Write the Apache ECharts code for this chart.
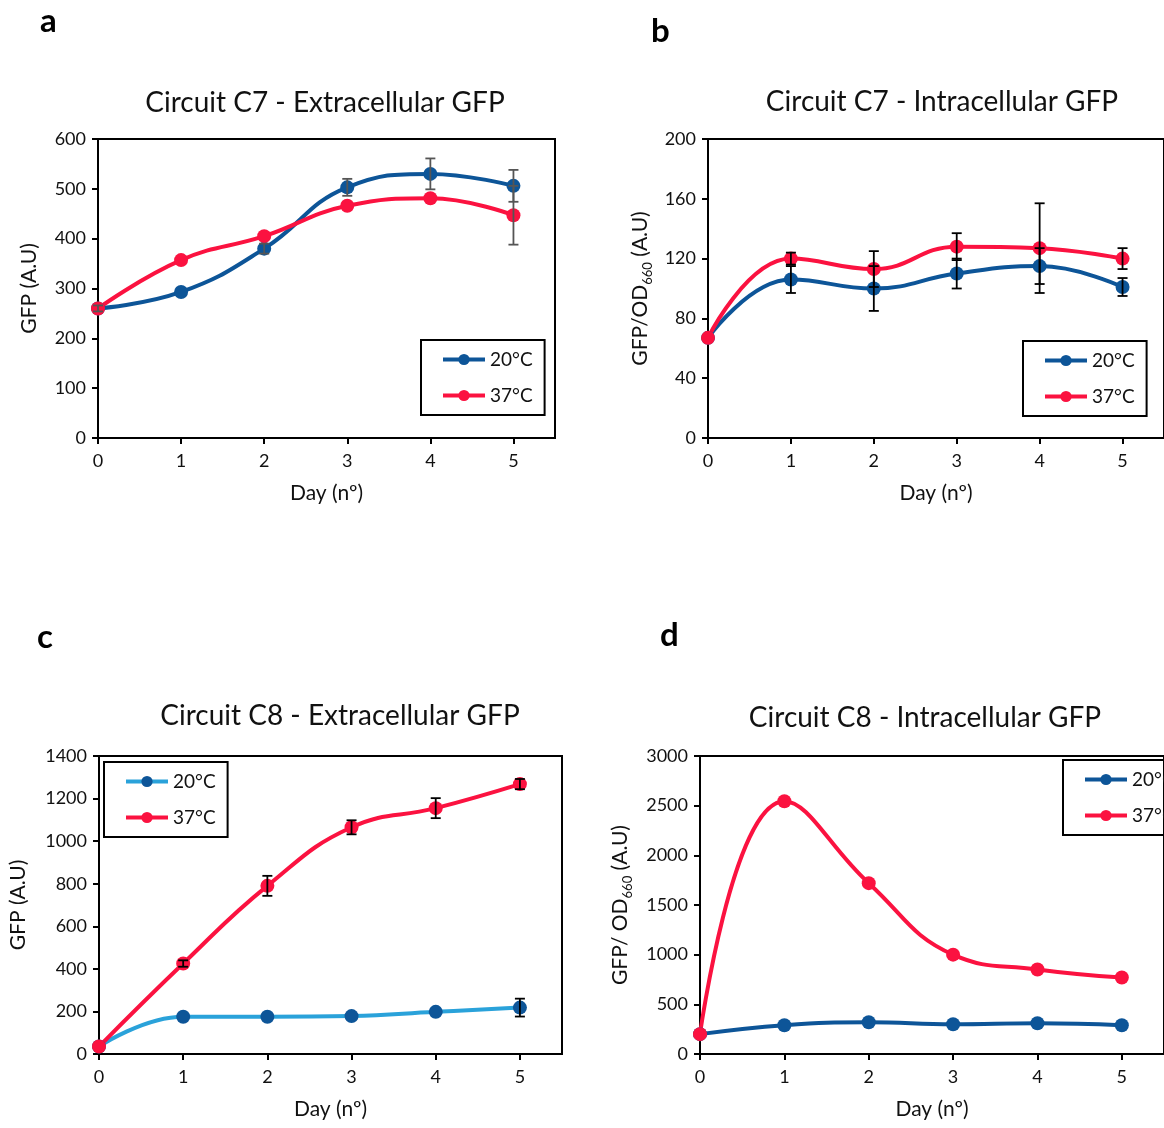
<!DOCTYPE html>
<html>
<head>
<meta charset="utf-8">
<script src="https://cdn.jsdelivr.net/npm/echarts@6/dist/echarts.min.js"></script>
<style>
  html, body { margin: 0; padding: 0; background: #fff; }
  #chart { width: 1164px; height: 1128px; }
</style>
</head>
<body>
<div id="chart"></div>
<script>
// Data
const days = [0, 1, 2, 3, 4, 5];

// a: Circuit C7 - Extracellular GFP
const a20 = [260, 293, 380, 503, 530, 506];
const a20Err = [6, 0, 10, 17, 31, 32];
const a37 = [260, 357, 405, 466, 481, 447];
const a37Err = [0, 0, 0, 0, 0, 59];

// b: Circuit C7 - Intracellular GFP
const b20 = [67, 106, 100, 110, 115, 101];
const b20Err = [0, 9, 15, 10, 12, 6];
const b37 = [67, 120, 113, 128, 127, 120];
const b37Err = [0, 4, 12, 9, 30, 7];

// c: Circuit C8 - Extracellular GFP
const c20 = [35, 175, 175, 178, 198, 218];
const c20Err = [0, 0, 0, 0, 0, 42];
const c37 = [35, 425, 790, 1065, 1155, 1268];
const c37Err = [0, 15, 47, 33, 47, 24];

// d: Circuit C8 - Intracellular GFP
const d20 = [200, 290, 320, 300, 310, 290];
const d37 = [200, 2545, 1720, 1000, 850, 770];

const FONT = 'Lato';
const BLUE = '#0d5598';
const LIGHTBLUE = '#2aa2da';
const RED = '#fb1240';

const chart = echarts.init(document.getElementById('chart'));

function pairs(vals) { return days.map((d, i) => [d, vals[i]]); }
function errData(vals, errs) {
    const out = [];
    days.forEach((d, i) => { if (errs[i] > 0) out.push([d, vals[i] - errs[i], vals[i] + errs[i]]); });
    return out;
}

function lineSeries(name, idx, vals, lineColor, markerColor) {
    return {
        name: name, type: 'line', xAxisIndex: idx, yAxisIndex: idx,
        data: pairs(vals), smooth: 0.45, symbol: 'circle', symbolSize: 14,
        lineStyle: { color: lineColor, width: 4 },
        itemStyle: { color: markerColor },
        z: 2
    };
}

function errSeries(idx, vals, errs, color) {
    return {
        type: 'custom', xAxisIndex: idx, yAxisIndex: idx, z: 3,
        data: errData(vals, errs),
        renderItem: function (params, api) {
            const top = api.coord([api.value(0), api.value(2)]);
            const bot = api.coord([api.value(0), api.value(1)]);
            const w = 5;
            const st = { stroke: color, lineWidth: 1.8 };
            return {
                type: 'group',
                children: [
                    { type: 'line', shape: { x1: top[0], y1: top[1], x2: bot[0], y2: bot[1] }, style: st },
                    { type: 'line', shape: { x1: top[0] - w, y1: top[1], x2: top[0] + w, y2: top[1] }, style: st },
                    { type: 'line', shape: { x1: bot[0] - w, y1: bot[1], x2: bot[0] + w, y2: bot[1] }, style: st }
                ]
            };
        }
    };
}

const grids = [
    { left: 98, top: 139, width: 457, height: 299 },
    { left: 708, top: 139, width: 465, height: 299 },
    { left: 99, top: 756, width: 463, height: 298 },
    { left: 700, top: 756, width: 474, height: 298 }
].map(g => Object.assign(g, { show: true, borderColor: '#000', borderWidth: 2, backgroundColor: 'transparent' }));

const xAxes = [0, 1, 2, 3].map(i => ({
    type: 'value', gridIndex: i, min: 0, max: 5.5, interval: 1,
    name: 'Day (nº)', nameLocation: 'middle', nameGap: 45,
    nameTextStyle: { fontFamily: FONT, fontSize: 21, color: '#111' },
    axisLine: { show: true, lineStyle: { color: '#000', width: 2 } },
    axisTick: { show: true, inside: false, length: 6, lineStyle: { color: '#000', width: 2 }, customValues: days },
    axisLabel: { fontFamily: FONT, fontSize: 18, color: '#111', margin: 14, customValues: days },
    splitLine: { show: false }
}));

const subName = (slash) => '{n|GFP/' + slash + 'OD}{s|660}{n| (A.U)}';
const nameRich = {
    n: { fontFamily: FONT, fontSize: 21, color: '#111', lineHeight: 28, verticalAlign: 'middle' },
    s: { fontFamily: FONT, fontSize: 13, color: '#111', verticalAlign: 'bottom' }
};

const yCfg = [
    { max: 600, interval: 100, name: 'GFP (A.U)', gap: 58 },
    { max: 200, interval: 40, name: subName(''), gap: 54 },
    { max: 1400, interval: 200, name: 'GFP (A.U)', gap: 70 },
    { max: 3000, interval: 500, name: subName(' '), gap: 66 }
];
const yAxes = yCfg.map((c, i) => ({
    type: 'value', gridIndex: i, min: 0, max: c.max, interval: c.interval,
    name: c.name, nameLocation: 'middle', nameGap: c.gap, nameRotate: 90,
    nameTextStyle: { fontFamily: FONT, fontSize: 21, color: '#111', rich: nameRich },
    axisLine: { show: true, lineStyle: { color: '#000', width: 2 } },
    axisTick: { show: true, inside: false, length: 6, lineStyle: { color: '#000', width: 2 } },
    axisLabel: { fontFamily: FONT, fontSize: 18, color: '#111', margin: 12, formatter: v => String(v) },
    splitLine: { show: false }
}));

function legend(suffix, left, top) {
    return {
        data: ['20°C' + suffix, '37°C' + suffix], orient: 'vertical', left: left, top: top,
        itemWidth: 42, itemHeight: 14, itemGap: 17,
        padding: [10, 12, 10, 20], borderColor: '#000', borderWidth: 2,
        formatter: n => n.split('#')[0],
        lineStyle: { width: 4 },
        textStyle: { fontFamily: FONT, fontSize: 19, color: '#111' },
        selectedMode: false
    };
}

const titles = [
    { text: 'Circuit C7 - Extracellular GFP', left: 320, top: 84 },
    { text: 'Circuit C7 - Intracellular GFP', left: 937, top: 83 },
    { text: 'Circuit C8 - Extracellular GFP', left: 335, top: 697 },
    { text: 'Circuit C8 - Intracellular GFP', left: 920, top: 699 }
].map(t => Object.assign(t, { textAlign: 'center', textStyle: { fontFamily: FONT, fontSize: 28, fontWeight: 'normal', color: '#111' } }));

const letters = [
    { text: 'a', left: 35, top: 0 },
    { text: 'b', left: 646, top: 10 },
    { text: 'c', left: 32, top: 616 },
    { text: 'd', left: 655, top: 614 }
].map(t => Object.assign(t, { textStyle: { fontFamily: FONT, fontSize: 33, fontWeight: 'bold', color: '#000' } }));

chart.setOption({
    animation: false,
    backgroundColor: '#fff',
    title: titles.concat(letters),
    grid: grids,
    xAxis: xAxes,
    yAxis: yAxes,
    legend: [
        legend('#a', 421, 340),
        legend('#b', 1023, 341),
        legend('#c', 104, 762),
        legend('#d', 1063, 760)
    ],
    series: [
        lineSeries('20°C#a', 0, a20, BLUE, BLUE),
        lineSeries('37°C#a', 0, a37, RED, RED),
        errSeries(0, a20, a20Err, '#555'),
        errSeries(0, a37, a37Err, '#555'),

        lineSeries('20°C#b', 1, b20, BLUE, BLUE),
        lineSeries('37°C#b', 1, b37, RED, RED),
        errSeries(1, b20, b20Err, '#000'),
        errSeries(1, b37, b37Err, '#000'),

        lineSeries('20°C#c', 2, c20, LIGHTBLUE, BLUE),
        lineSeries('37°C#c', 2, c37, RED, RED),
        errSeries(2, c20, c20Err, '#000'),
        errSeries(2, c37, c37Err, '#000'),

        lineSeries('20°C#d', 3, d20, BLUE, BLUE),
        lineSeries('37°C#d', 3, d37, RED, RED)
    ]
});
</script>
</body>
</html>
